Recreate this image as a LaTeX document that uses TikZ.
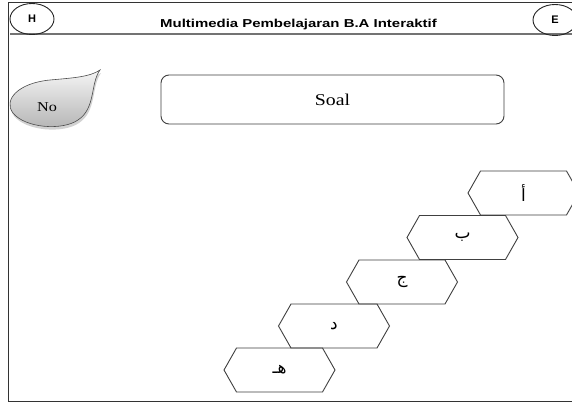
\documentclass[tikz,border=0pt]{standalone}
\usepackage{fontspec}
\setmainfont{Liberation Serif}
\setsansfont{Liberation Sans}
\newfontfamily\arabicfont[Script=Arabic]{DejaVu Sans}
\TeXXeTstate=1
\usetikzlibrary{shapes.geometric,shadows,calc}
\definecolor{linegray}{HTML}{404040}
\newcommand\hexcell[4]{%
  \node[hexin] (#1) at (#2,#3) {\arabicfont\fontsize{17}{19}\selectfont\beginR #4\endR};
  \draw[edge] (#1.north west) -- (#1.north east) -- ($(#1.east)+(12.5,0)$) -- (#1.south east)
     -- (#1.south west) -- ($(#1.west)+(-12.5,0)$) -- cycle;}
\begin{document}
\begin{tikzpicture}[x=1pt,y=-1pt,
  edge/.style={draw=linegray, line width=0.9pt},
  hexin/.style={minimum width=86pt, minimum height=44pt, inner sep=0pt, outer sep=0pt},
  corner/.style={ellipse, draw=black!85, line width=0.9pt, minimum width=44pt, minimum height=31pt,
     inner sep=0pt, font=\sffamily\bfseries\fontsize{11}{13}\selectfont},
  soalbox/.style={draw=linegray, line width=0.9pt, rounded corners=8pt, minimum width=343pt,
     minimum height=49pt, inner sep=0pt}]
\useasboundingbox (0,0) rectangle (572,404);
\clip (0,0) rectangle (572,404);
\fill[white] (0,0) rectangle (572,404);
% frame
\draw[draw=black!80, line width=1pt] (572,3) -- (8,3) -- (8,401) -- (572,401);
\draw[draw=black!55, line width=1.3pt] (10,34) -- (572,34);
% header
\node[corner] (H) at (32,19) {H};
\node[corner] (E) at (555,20) {E};
\node (title) at (298.5,25) {\scalebox{1.3}[1]{\sffamily\bfseries\fontsize{11.5}{13}\selectfont Multimedia Pembelajaran B.A Interaktif}};
% drop
\path[draw=black!70, line width=0.6pt, top color=gray!8, bottom color=gray!60,
      drop shadow={shadow xshift=1pt, shadow yshift=-3pt, opacity=0.35}]
  (100,70) .. controls (90,84) and (96,108) .. (78,120)
  .. controls (62,131) and (25,128) .. (13,113)
  .. controls (3,100) and (18,83) .. (50,80)
  .. controls (72,78) and (90,77) .. (100,70) -- cycle;
\node (no) at (47,107) {\scalebox{1.2}[1]{\fontsize{13.5}{15}\selectfont No}};
% question box
\node[soalbox] (soal) at (332.5,99.5) {\scalebox{1.2}[1]{\fontsize{16.5}{18}\selectfont Soal}};
% answer hexagons
\hexcell{a}{523.5}{193}{أ}
\hexcell{b}{462.5}{237.5}{ب}
\hexcell{c}{402}{282}{ج}
\hexcell{d}{334}{326}{د}
\hexcell{e}{279.5}{370}{هـ}
\end{tikzpicture}
\end{document}
